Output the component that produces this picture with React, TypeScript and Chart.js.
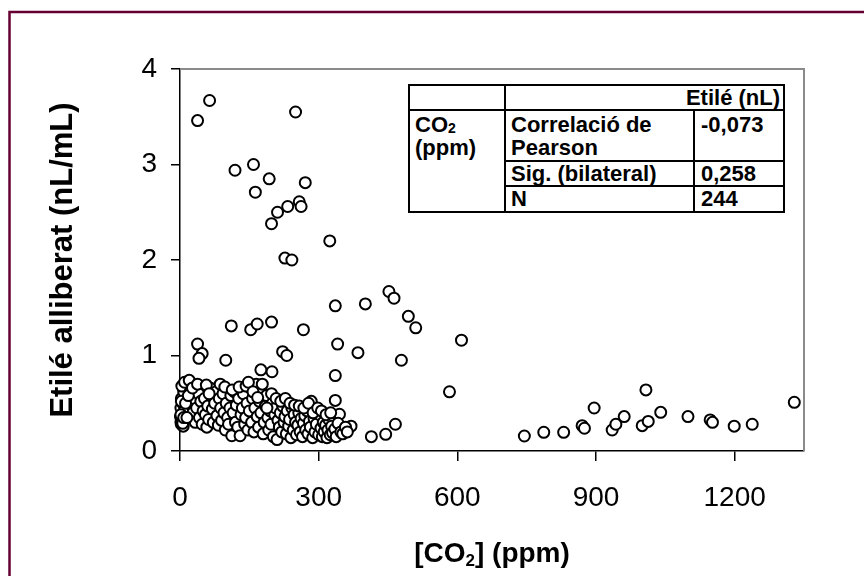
import React, { useEffect, useRef } from "react";
import { Chart, registerables } from "chart.js";

Chart.register(...registerables);

// [CO2] (ppm) for each sample
const co2Ppm: number[] = [
  38, 64, 250, 119, 159, 193, 271, 163, 258, 262, 233, 211, 198, 324, 227, 242, 452, 463, 336, 401, 494, 510, 609, 479, 583,
  111, 153, 167, 198, 267, 38, 48, 41, 99, 222, 231, 341, 385, 336, 199, 175, 336, 345, 370, 414, 445, 466, 284,
  745, 787, 830, 870, 875, 896, 935, 943, 961, 1000, 1013, 1008, 1040, 1099, 1147, 1152, 1199, 1238, 1329,
  2, 3, 4, 1, 5, 2, 6, 3, 8, 4, 10, 7, 5, 9, 2, 6, 3, 8,
  20, 22, 25, 28, 30, 33, 36, 40, 42, 45,
  48, 50, 53, 55, 58, 60, 62, 65, 67, 70,
  72, 75, 78, 80, 83, 85, 88, 90, 93, 95,
  98, 100, 103, 105, 108, 110, 112, 115, 118, 120,
  122, 125, 127, 130, 132, 135, 137, 140, 142, 145,
  147, 150, 152, 155, 157, 160, 162, 165, 167, 170,
  172, 175, 177, 180, 182, 185, 187, 190, 192, 195,
  197, 200, 202, 205, 207, 210, 212, 215, 217, 220,
  222, 225, 227, 230, 232, 235, 237, 240, 242, 245,
  247, 250, 252, 255, 257, 260, 262, 265, 267, 270,
  272, 275, 277, 280, 282, 285, 287, 290, 292, 295,
  300, 302, 305, 308, 310, 312, 315, 318, 320, 322,
  325, 328, 330, 335, 338, 342, 348, 352, 358, 362,
  12, 15, 18, 27, 38, 57, 63, 87, 97, 113, 128, 143, 148, 158, 168, 178, 188, 198, 208, 218, 228, 238, 248, 258,
  268, 278, 288, 298, 306, 316, 326,
];

// Etilé alliberat (nL/mL) for each sample
const etileNlMl: number[] = [
  3.46, 3.67, 3.55, 2.94, 3.0, 2.85, 2.81, 2.71, 2.61, 2.56, 2.56, 2.5, 2.38, 2.2, 2.02, 2.0, 1.67, 1.6, 1.52, 1.54, 1.41, 1.29, 1.16, 0.95, 0.62,
  1.31, 1.27, 1.33, 1.35, 1.27, 1.12, 1.02, 0.97, 0.95, 1.04, 1.0, 1.12, 1.03, 0.79, 0.83, 0.85, 0.53, 0.385, 0.26, 0.15, 0.175, 0.28, 0.52,
  0.157, 0.196, 0.196, 0.265, 0.238, 0.45, 0.22, 0.28, 0.36, 0.265, 0.31, 0.64, 0.405, 0.36, 0.325, 0.3, 0.26, 0.28, 0.51,
  0.3, 0.28, 0.33, 0.36, 0.4, 0.45, 0.5, 0.55, 0.62, 0.68, 0.72, 0.26, 0.31, 0.42, 0.38, 0.29, 0.52, 0.35,
  0.74, 0.62, 0.48, 0.4, 0.55, 0.3, 0.45, 0.6, 0.35, 0.52,
  0.28, 0.42, 0.55, 0.38, 0.25, 0.47, 0.33, 0.66, 0.58, 0.44,
  0.3, 0.5, 0.62, 0.37, 0.27, 0.55, 0.45, 0.32, 0.6, 0.4,
  0.22, 0.5, 0.35, 0.28, 0.45, 0.58, 0.16, 0.4, 0.62, 0.3,
  0.48, 0.25, 0.55, 0.16, 0.38, 0.45, 0.6, 0.28, 0.35, 0.5,
  0.22, 0.42, 0.66, 0.3, 0.55, 0.2, 0.45, 0.7, 0.36, 0.25,
  0.52, 0.4, 0.62, 0.18, 0.3, 0.47, 0.58, 0.35, 0.22, 0.42,
  0.28, 0.5, 0.15, 0.38, 0.45, 0.12, 0.32, 0.25, 0.4, 0.2,
  0.47, 0.3, 0.36, 0.18, 0.42, 0.26, 0.33, 0.14, 0.45, 0.22,
  0.38, 0.3, 0.17, 0.27, 0.4, 0.2, 0.34, 0.15, 0.29, 0.37,
  0.22, 0.42, 0.18, 0.31, 0.25, 0.44, 0.14, 0.34, 0.2, 0.28,
  0.17, 0.38, 0.24, 0.15, 0.3, 0.2, 0.27, 0.14, 0.22, 0.33,
  0.17, 0.26, 0.19, 0.23, 0.15, 0.29, 0.2, 0.18, 0.25, 0.2,
  0.5, 0.35, 0.58, 0.66, 0.7, 0.69, 0.6, 0.7, 0.67, 0.64, 0.67, 0.68, 0.72, 0.62, 0.56, 0.7, 0.45, 0.6, 0.55, 0.52,
  0.55, 0.5, 0.48, 0.47, 0.45, 0.5, 0.4, 0.45, 0.42, 0.38, 0.4,
];

const xTickValues: number[] = [0, 300, 600, 900, 1200];
const yTickValues: number[] = [0, 1, 2, 3, 4];

const xTitleParts: string[] = ["[CO", "2", "] (ppm)"];
const yTitle = "Etilé alliberat (nL/mL)";

const tableColumnHeader = "Etilé (nL)";
const tableVariable: string[] = ["CO", "2", "(ppm)"];
const tableStatLabels: string[] = ["Correlació de Pearson", "Sig. (bilateral)", "N"];
const tableStatValues: string[] = ["-0,073", "0,258", "244"];

const FONT = "'Liberation Sans', Arial, Helvetica, sans-serif";

const decorPlugin = {
  id: "decor",
  beforeDraw(chart: any) {
    const ctx = chart.ctx;
    ctx.save();
    ctx.fillStyle = "#ffffff";
    ctx.fillRect(0, 0, chart.width, chart.height);
    ctx.restore();
  },
  beforeDatasetsDraw(chart: any) {
    const { ctx, chartArea } = chart;
    ctx.save();
    ctx.strokeStyle = "#8a8a8a";
    ctx.lineWidth = 2;
    ctx.beginPath();
    ctx.moveTo(chartArea.left, chartArea.top);
    ctx.lineTo(chartArea.right, chartArea.top);
    ctx.lineTo(chartArea.right, chartArea.bottom);
    ctx.stroke();
    ctx.restore();
  },
  afterDraw(chart: any) {
    const { ctx, chartArea } = chart;
    ctx.save();
    // x title with subscript
    const big = `bold 28px ${FONT}`;
    const small = `bold 17px ${FONT}`;
    ctx.fillStyle = "#000";
    ctx.textBaseline = "alphabetic";
    ctx.font = big;
    const w0 = ctx.measureText(xTitleParts[0]).width;
    const w2 = ctx.measureText(xTitleParts[2]).width;
    ctx.font = small;
    const w1 = ctx.measureText(xTitleParts[1]).width;
    const cx = (chartArea.left + chartArea.right) / 2;
    let x = cx - (w0 + w1 + w2) / 2;
    const baseY = 562;
    ctx.font = big;
    ctx.textAlign = "left";
    ctx.fillText(xTitleParts[0], x, baseY);
    x += w0;
    ctx.font = small;
    ctx.fillText(xTitleParts[1], x, baseY + 4);
    x += w1;
    ctx.font = big;
    ctx.fillText(xTitleParts[2], x, baseY);

    // y title
    ctx.translate(63, (chartArea.top + chartArea.bottom) / 2);
    ctx.rotate(-Math.PI / 2);
    ctx.font = `bold 31px ${FONT}`;
    ctx.textAlign = "center";
    ctx.textBaseline = "middle";
    ctx.fillText(yTitle, 0, 0);
    ctx.restore();

    // outer frame
    ctx.save();
    ctx.strokeStyle = "#660033";
    ctx.lineWidth = 2.5;
    ctx.beginPath();
    ctx.moveTo(9.5, chart.height + 2);
    ctx.lineTo(9.5, 12);
    ctx.lineTo(chart.width + 2, 12);
    ctx.stroke();
    ctx.restore();
  },
};

function ScatterChart() {
  const canvasRef = useRef<HTMLCanvasElement | null>(null);

  useEffect(() => {
    const canvas = canvasRef.current;
    if (!canvas) return;
    const points = co2Ppm.map((v, i) => ({ x: v, y: etileNlMl[i] }));
    const tickFont = { family: FONT, size: 28 };
    const chart = new Chart(canvas, {
      type: "scatter",
      data: {
        datasets: [
          {
            data: points,
            pointRadius: 5.5,
            pointHoverRadius: 5.5,
            pointBorderWidth: 2,
            pointBackgroundColor: "#ffffff",
            pointBorderColor: "#000000",
            clip: false,
          } as any,
        ],
      },
      options: {
        responsive: false,
        animation: false,
        devicePixelRatio: 1,
        events: [],
        layout: { padding: { left: 0, top: 69, right: 60, bottom: 0 } },
        plugins: { legend: { display: false }, tooltip: { enabled: false } },
        scales: {
          x: {
            type: "linear",
            position: "bottom",
            min: 0,
            max: 1350,
            afterBuildTicks: (scale: any) => {
              scale.ticks = xTickValues.map((v) => ({ value: v }));
            },
            afterFit: (scale: any) => {
              scale.height = 125;
            },
            ticks: {
              font: tickFont,
              color: "#000",
              padding: 20,
              maxRotation: 0,
              autoSkip: false,
              callback: (v: any) => String(v),
            },
            grid: { display: true, drawOnChartArea: false, drawTicks: true, tickLength: 10, color: "#000", lineWidth: 1.5 },
            border: { display: true, color: "#000", width: 1.5 },
          },
          y: {
            type: "linear",
            min: 0,
            max: 4,
            afterBuildTicks: (scale: any) => {
              scale.ticks = yTickValues.map((v) => ({ value: v }));
            },
            afterFit: (scale: any) => {
              scale.width = 180;
            },
            ticks: { font: tickFont, color: "#000", padding: 14, autoSkip: false, callback: (v: any) => String(v) },
            grid: { display: true, drawOnChartArea: false, drawTicks: true, tickLength: 9, color: "#000", lineWidth: 1.5 },
            border: { display: true, color: "#000", width: 1.5 },
          },
        },
      } as any,
      plugins: [decorPlugin],
    });
    return () => chart.destroy();
  }, []);

  return <canvas ref={canvasRef} width={864} height={576} style={{ display: "block" }} />;
}

const cell: React.CSSProperties = {
  border: "2px solid #000",
  padding: "0 4px 0 5px",
  verticalAlign: "top",
  textAlign: "left",
  overflow: "hidden",
  whiteSpace: "nowrap",
};

function StatsTable() {
  return (
    <table
      style={{
        position: "absolute",
        left: 408,
        top: 84,
        width: 375,
        borderCollapse: "collapse",
        tableLayout: "fixed",
        fontFamily: FONT,
        fontWeight: "bold",
        fontSize: 22,
        lineHeight: "23px",
        color: "#000",
        background: "#fff",
      }}
    >
      <colgroup>
        <col style={{ width: 96 }} />
        <col style={{ width: 189 }} />
        <col style={{ width: 90 }} />
      </colgroup>
      <tbody>
        <tr style={{ height: 24 }}>
          <td style={{ ...cell }}></td>
          <td colSpan={2} style={{ ...cell, textAlign: "right", padding: "0 3px 0 4px" }}>
            {tableColumnHeader}
          </td>
        </tr>
        <tr style={{ height: 51 }}>
          <td rowSpan={3} style={{ ...cell, paddingTop: 2 }}>
            {tableVariable[0]}
            <sub style={{ fontSize: 14, verticalAlign: "-1px", lineHeight: 0 }}>{tableVariable[1]}</sub>
            <br />
            {tableVariable[2]}
          </td>
          <td style={{ ...cell, paddingTop: 2, whiteSpace: "normal" }}>
            {"Correlació de"}
            <br />
            {"Pearson"}
          </td>
          <td style={{ ...cell, paddingTop: 2, paddingLeft: 6 }}>{tableStatValues[0]}</td>
        </tr>
        <tr style={{ height: 25 }}>
          <td style={{ ...cell }}>{tableStatLabels[1]}</td>
          <td style={{ ...cell, paddingLeft: 6 }}>{tableStatValues[1]}</td>
        </tr>
        <tr style={{ height: 26 }}>
          <td style={{ ...cell }}>{tableStatLabels[2]}</td>
          <td style={{ ...cell, paddingLeft: 6 }}>{tableStatValues[2]}</td>
        </tr>
      </tbody>
    </table>
  );
}

export default function App() {
  return (
    <div style={{ position: "absolute", left: 0, top: 0, width: 864, height: 576, background: "#fff", overflow: "hidden" }}>
      <ScatterChart />
      <StatsTable />
    </div>
  );
}
